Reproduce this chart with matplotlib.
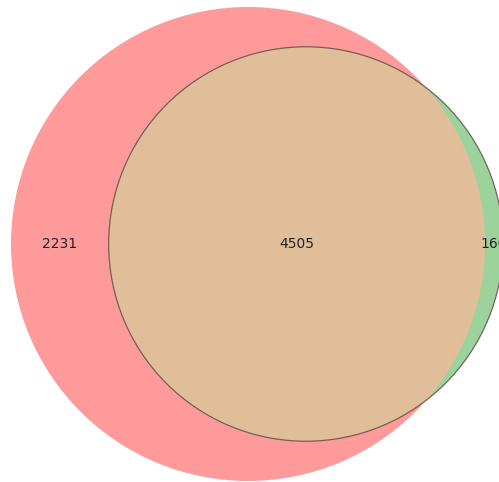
import numpy as np
import matplotlib
matplotlib.use("Agg")
import matplotlib.pyplot as plt
from matplotlib.patches import Circle

# set sizes (A only, both, B only)
only_a = 2231
both = 4505
only_b = 160
labels = ["2231", "4505", "160"]

colors = {"a": "#fe9a9a", "ab": "#e0be99", "b": "#9cd29c"}

area_a = only_a + both
area_b = only_b + both
r_a = np.sqrt(area_a / np.pi)
r_b = np.sqrt(area_b / np.pi)


def overlap(d):
    if d >= r_a + r_b:
        return 0.0
    if d <= abs(r_a - r_b):
        return np.pi * min(r_a, r_b) ** 2
    a1 = r_a**2 * np.arccos((d**2 + r_a**2 - r_b**2) / (2 * d * r_a))
    a2 = r_b**2 * np.arccos((d**2 + r_b**2 - r_a**2) / (2 * d * r_b))
    a3 = 0.5 * np.sqrt((-d + r_a + r_b) * (d + r_a - r_b) * (d - r_a + r_b) * (d + r_a + r_b))
    return a1 + a2 - a3


# find centre distance giving the wanted overlap
lo, hi = abs(r_a - r_b) + 1e-9, r_a + r_b
for _ in range(100):
    mid = (lo + hi) / 2
    if overlap(mid) > both:
        lo = mid
    else:
        hi = mid
d = (lo + hi) / 2

fig = plt.figure(figsize=(4.99, 4.82), dpi=100)
ax = fig.add_axes([0, 0, 1, 1])
ax.set_axis_off()

s = 237 / r_a  # pixels per unit
cx, cy = 248, 244
ax.set_xlim(-cx / s, (499 - cx) / s)
ax.set_ylim(-(482 - cy) / s, cy / s)
ax.set_aspect("equal")

ca = Circle((0, 0), r_a, facecolor=colors["a"], edgecolor="none")
ax.add_patch(ca)
cb = Circle((d, 0), r_b, facecolor=colors["b"], edgecolor="none")
ax.add_patch(cb)
cab = Circle((d, 0), r_b, facecolor=colors["ab"], edgecolor="none")
ax.add_patch(cab)
cab.set_clip_path(Circle((0, 0), r_a, transform=ax.transData))
ax.add_patch(Circle((d, 0), r_b, facecolor="none", edgecolor="#5a4a40", lw=0.9, alpha=0.8))

# label positions: middle of each region along the centre line
xa = (-r_a + (d - r_b)) / 2
xab = ((d - r_b) + r_a) / 2
xb = (r_a + d + r_b) / 2
for x, t in zip([xa, xab, xb], labels):
    ax.text(x, 0, t, ha="center", va="center", fontsize=10, color="#222222")

fig.savefig("out.png", dpi=100)
